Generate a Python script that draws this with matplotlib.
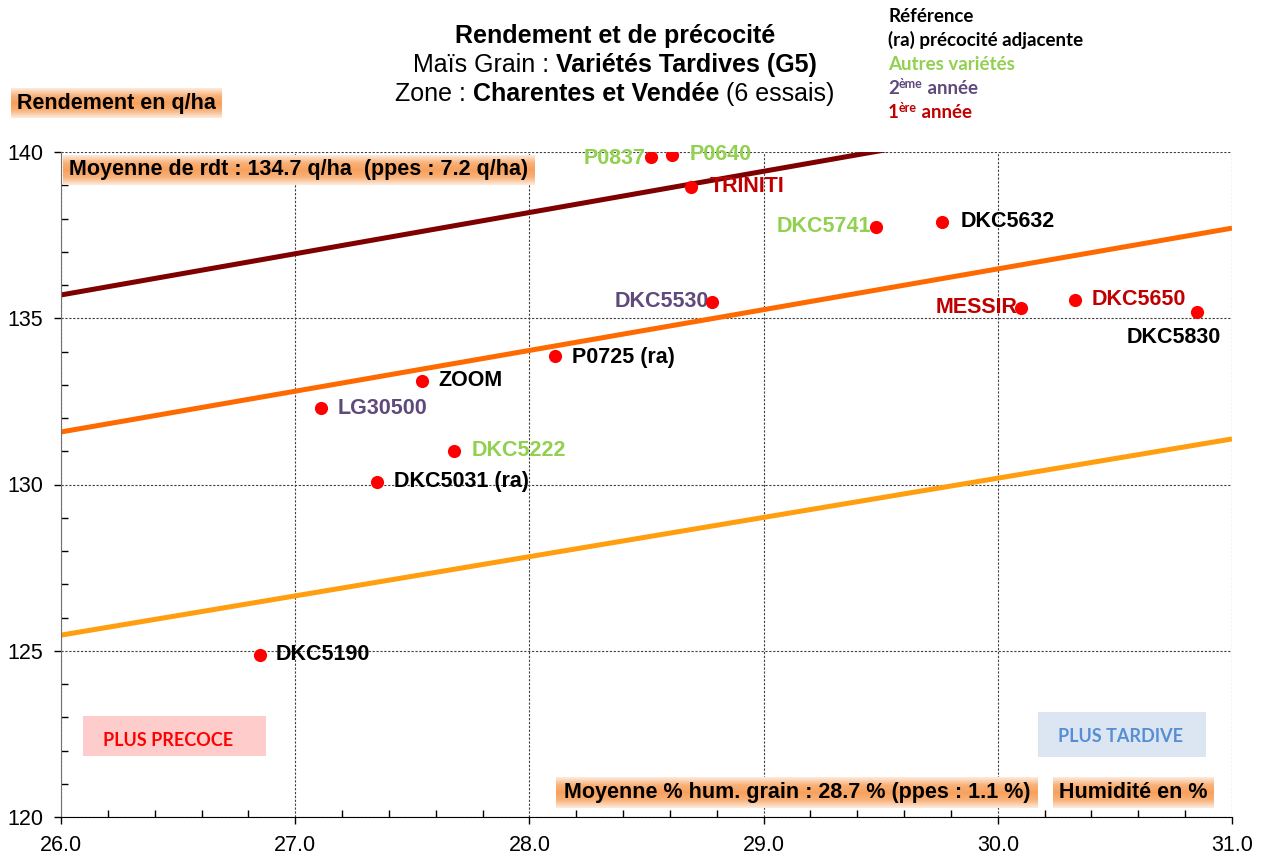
import matplotlib
matplotlib.use("Agg")
import matplotlib.pyplot as plt
import numpy as np
from matplotlib.colors import LinearSegmentedColormap
from matplotlib.patches import Rectangle
from matplotlib.ticker import MultipleLocator, FormatStrFormatter

W, H = 1269, 857
ARIAL = "Liberation Sans"
CALIBRI = "Lato"

# data
varieties = ["P0837", "P0640", "TRINITI", "DKC5741", "DKC5632", "DKC5530",
             "MESSIR", "DKC5650", "DKC5830", "P0725 (ra)", "ZOOM", "LG30500",
             "DKC5222", "DKC5031 (ra)", "DKC5190"]
humidity = [28.52, 28.61, 28.69, 29.48, 29.76, 28.78,
            30.10, 30.33, 30.85, 28.11, 27.54, 27.11,
            27.68, 27.35, 26.85]
rendement = [139.86, 139.92, 138.95, 137.75, 137.90, 135.50,
             135.32, 135.56, 135.20, 133.86, 133.12, 132.30,
             131.02, 130.08, 124.88]
groups = ["autre", "autre", "1e", "autre", "ref", "2e",
          "1e", "1e", "ref", "ref", "ref", "2e",
          "autre", "ref", "ref"]

trend_x = [26.0, 31.0]
trend_haut = [135.70, 141.90]
trend_moy = [131.58, 137.71]
trend_bas = [125.47, 131.37]

group_colors = {"ref": "#000000", "autre": "#92D050", "2e": "#604A7B", "1e": "#C00000"}

# label placement: (dx px, dy px, ha)
label_pos = {
    "P0837": (-6, -2, "right"), "P0640": (17, 0, "left"), "TRINITI": (19, 0, "left"),
    "DKC5741": (-5, 0, "right"), "DKC5632": (19, 0, "left"), "DKC5530": (-3, 0, "right"),
    "MESSIR": (-4, 0, "right"), "DKC5650": (17, 0, "left"), "DKC5830": (-23, -26, "center"),
    "P0725 (ra)": (17, -1, "left"), "ZOOM": (17, 0, "left"), "LG30500": (17, 0, "left"),
    "DKC5222": (17, 0, "left"), "DKC5031 (ra)": (17, 0, "left"), "DKC5190": (16, 0, "left"),
}

fig = plt.figure(figsize=(W / 100, H / 100), dpi=100)
ax = fig.add_axes([61 / W, 40 / H, 1171 / W, 665 / H])

ax.plot(trend_x, trend_haut, color="#7F0000", lw=3.6, zorder=2, solid_capstyle="butt")
ax.plot(trend_x, trend_moy, color="#FF6A00", lw=3.6, zorder=2, solid_capstyle="butt")
ax.plot(trend_x, trend_bas, color="#FF9F10", lw=3.6, zorder=2, solid_capstyle="butt")

ax.scatter(humidity, rendement, s=90, color="#FF0000", linewidths=0, zorder=5)
for name, x, y, g in zip(varieties, humidity, rendement, groups):
    dx, dy, ha = label_pos[name]
    ax.annotate(name, (x, y), xytext=(dx, dy), textcoords="offset pixels",
                ha=ha, va="center", fontsize=15.5, fontweight="bold",
                family=ARIAL, color=group_colors[g], zorder=4)

ax.set_xlim(26, 31)
ax.set_ylim(120, 140)
ax.xaxis.set_major_locator(MultipleLocator(1))
ax.xaxis.set_minor_locator(MultipleLocator(0.2))
ax.yaxis.set_major_locator(MultipleLocator(5))
ax.yaxis.set_minor_locator(MultipleLocator(1))
ax.xaxis.set_major_formatter(FormatStrFormatter("%.1f"))
ax.yaxis.set_major_formatter(FormatStrFormatter("%d"))
ax.tick_params(which="major", direction="out", length=5, width=1, labelsize=15.5, pad=8)
ax.tick_params(which="minor", direction="in", length=5, width=1)
for lab in ax.get_xticklabels() + ax.get_yticklabels():
    lab.set_family(ARIAL)
ax.grid(which="major", color="#404040", linestyle=(0, (2, 1.5)), linewidth=0.8)
ax.spines["top"].set_visible(False)
ax.spines["right"].set_visible(False)
ax.spines["left"].set_color("#707070")
ax.set_axisbelow(True)

# PLUS PRECOCE / PLUS TARDIVE boxes
ax.add_patch(Rectangle((0.0188, 0.0917), 0.1563, 0.0602, transform=ax.transAxes,
                       facecolor="#FFCCCC", edgecolor="none", zorder=1))
ax.text((168 - 61) / 1171, (817 - 740) / 665, "PLUS PRECOCE", transform=ax.transAxes,
        ha="center", va="center", fontsize=13, fontweight="bold", family=CALIBRI,
        color="#FF0000", zorder=3)
ax.add_patch(Rectangle((0.8343, 0.0902), 0.1435, 0.0677, transform=ax.transAxes,
                       facecolor="#DCE6F2", edgecolor="none", zorder=1))
ax.text((1121 - 61) / 1171, (817 - 737) / 665, "PLUS TARDIVE", transform=ax.transAxes,
        ha="center", va="center", fontsize=13, fontweight="bold", family=CALIBRI,
        color="#558ED5", zorder=3)

renderer = fig.canvas.get_renderer()


def fpos(x, y):
    return x / W, 1 - y / H


def text_line(x, y, parts, align="center"):
    # parts: (text, kwargs, raise_px)
    arts = []
    for s, kw, rise in parts:
        t = fig.text(0, 0, s, va="baseline", ha="left", **kw)
        arts.append((t, rise))
    widths = [t.get_window_extent(renderer).width for t, _ in arts]
    start = x - sum(widths) / 2 if align == "center" else x
    for (t, rise), w in zip(arts, widths):
        t.set_position(fpos(start, y - rise))
        start += w


bold = dict(fontsize=18, fontweight="bold", family=ARIAL)
reg = dict(fontsize=18, family=ARIAL)
text_line(615, 43, [("Rendement et de précocité", bold, 0)])
text_line(615, 72, [("Maïs Grain :", reg, 0), (" Variétés Tardives (G5)", bold, 0)])
text_line(615, 101, [("Zone :", reg, 0), (" Charentes et Vendée", bold, 0), (" (6 essais)", reg, 0)])

leg = dict(fontsize=13.5, fontweight="bold", family=CALIBRI)
sup = dict(fontsize=9, fontweight="bold", family=CALIBRI)
text_line(888, 22, [("Référence", dict(leg, color="#000000"), 0)], align="left")
text_line(888, 46, [("(ra) précocité adjacente", dict(leg, color="#000000"), 0)], align="left")
text_line(888, 70, [("Autres variétés", dict(leg, color="#92D050"), 0)], align="left")
text_line(888, 94, [("2", dict(leg, color="#604A7B"), 0), ("ème", dict(sup, color="#604A7B"), 6),
                    (" année", dict(leg, color="#604A7B"), 0)], align="left")
text_line(888, 118, [("1", dict(leg, color="#C00000"), 0), ("ère", dict(sup, color="#C00000"), 6),
                     (" année", dict(leg, color="#C00000"), 0)], align="left")

grad = LinearSegmentedColormap.from_list(
    "grad", ["#FDEBDD", "#F9B27A", "#F7A05C", "#F9B27A", "#FDEBDD"])


def orange_label(x0, y0, x1, y1, s):
    gax = fig.add_axes([x0 / W, 1 - y1 / H, (x1 - x0) / W, (y1 - y0) / H], zorder=1)
    gax.imshow(np.linspace(0, 1, 64).reshape(-1, 1), cmap=grad, aspect="auto",
               extent=(0, 1, 0, 1))
    gax.set_axis_off()
    fig.text(*fpos((x0 + x1) / 2, (y0 + y1) / 2), s, ha="center", va="center",
             fontsize=15.5, fontweight="bold", family=ARIAL, color="#000000", zorder=3)


orange_label(11, 88, 222, 118, "Rendement en q/ha")
orange_label(63, 155, 535, 185, "Moyenne de rdt : 134.7 q/ha  (ppes : 7.2 q/ha)")
orange_label(556, 777, 1038, 808, "Moyenne % hum. grain : 28.7 % (ppes : 1.1 %)")
orange_label(1053, 777, 1214, 808, "Humidité en %")

fig.savefig("out.png", dpi=100)
